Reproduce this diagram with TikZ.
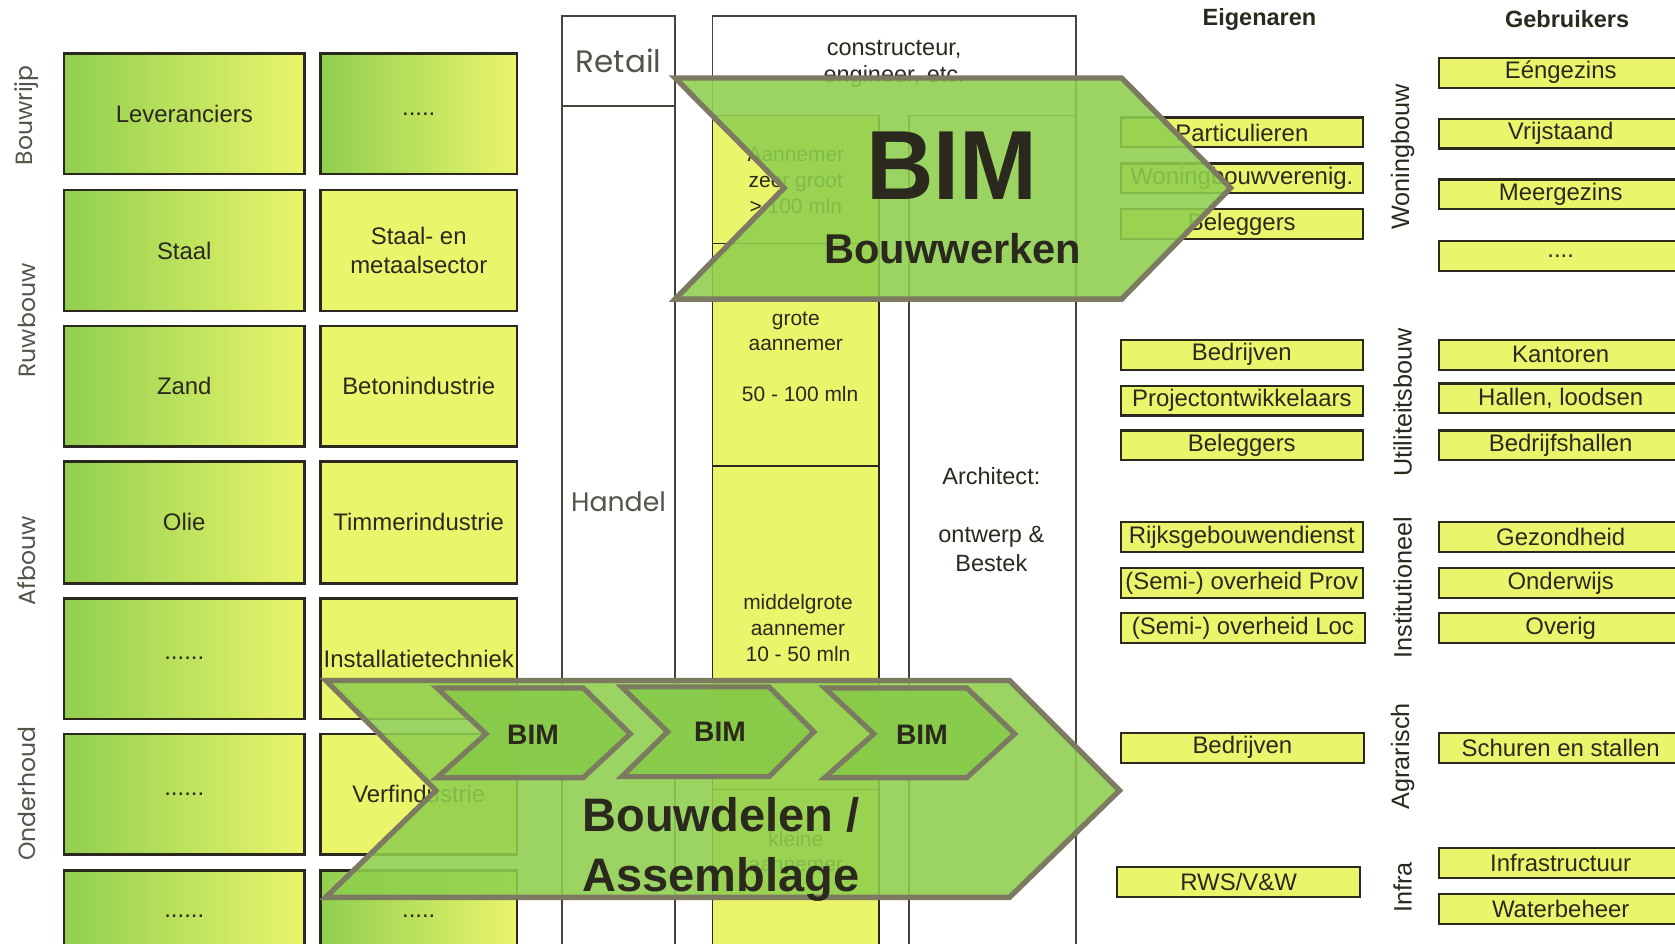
\documentclass[tikz,border=0pt]{standalone}
\usepackage{fontspec}
\setmainfont{Liberation Sans}
\newfontfamily\geo{Poppins}
\definecolor{ylw}{RGB}{234,245,107}
\definecolor{grn}{RGB}{144,207,80}
\definecolor{ink}{RGB}{43,41,30}
\definecolor{olive}{RGB}{125,122,98}
\definecolor{arrowfill}{RGB}{142,207,78}
\definecolor{chevfill}{RGB}{136,203,72}
\definecolor{colline}{RGB}{70,68,58}
\newcommand\mybox[7]{\node[#1, minimum width={(#5-#3)*0.5pt}, minimum height={(#6-#4)*0.5pt}] (#2) at ({(#3+#5)/2},{(#4+#6)/2}) {#7};}
\tikzset{
 base/.style={draw=ink, line width=1.2pt, inner sep=1pt, outer sep=0pt, text=ink, align=center, font=\fontsize{11.2}{13.5}\selectfont},
 gbox/.style={base, left color=grn, right color=ylw},
 ybox/.style={base, fill=ylw},
 rbox/.style={base, fill=ylw, line width=1pt},
 colbox/.style={draw=colline, line width=0.8pt, inner sep=0pt, outer sep=0pt},
 acol/.style={colbox, fill=ylw, draw=ink},
 retailbox/.style={colbox, text=ink!80, font=\geo\fontsize{14.5}{16}\selectfont},
 txt/.style={text=ink, inner sep=0pt, align=center, font=\fontsize{9.8}{12}\selectfont},
 mtxt/.style={text=ink, inner sep=0pt, align=center, font=\fontsize{11}{12.5}\selectfont},
 geotxt/.style={text=ink!80, inner sep=0pt, font=\geo\fontsize{12.5}{14}\selectfont},
 geocat/.style={text=ink!80, inner sep=0pt, font=\geo\fontsize{11}{13}\selectfont, rotate=90},
 cat/.style={text=ink, inner sep=0pt, font=\fontsize{11.8}{13}\selectfont, rotate=90},
 head/.style={text=ink, inner sep=0pt, font=\bfseries\fontsize{11}{13}\selectfont},
 bigarrow/.style={draw=olive, line width=2.5pt, fill=arrowfill, fill opacity=0.88, line join=miter},
 chev/.style={draw=olive, line width=2.4pt, fill=chevfill, fill opacity=0.92, line join=miter},
 bimtxt/.style={text=ink, inner sep=0pt, font=\bfseries\fontsize{13.2}{14}\selectfont},
 bigtxt/.style={text=ink, inner sep=0pt, align=left, font=\bfseries\fontsize{22}{28}\selectfont},
}
\begin{document}
\begin{tikzpicture}[x=0.5pt,y=-0.5pt]
\useasboundingbox[fill=white] (0,0) rectangle (1568,883);

% left category labels
\node[geocat] (cBouwrijp) at (25,108) {Bouwrijp};
\node[geocat] (cRuwbouw) at (25,300) {Ruwbouw};
\node[geocat] (cAfbouw) at (25,525) {Afbouw};
\node[geocat] (cOnderhoud) at (25,743) {Onderhoud};

% left boxes
\mybox{gbox}{l11}{60}{50}{285}{163}{Leveranciers}
\mybox{gbox}{l12}{300}{50}{484}{163}{.....}
\mybox{gbox}{l21}{60}{178}{285}{291}{Staal}
\mybox{ybox}{l22}{300}{178}{484}{291}{Staal- en\\metaalsector}
\mybox{gbox}{l31}{60}{305}{285}{418}{Zand}
\mybox{ybox}{l32}{300}{305}{484}{418}{Betonindustrie}
\mybox{gbox}{l41}{60}{432}{285}{546}{Olie}
\mybox{ybox}{l42}{300}{432}{484}{546}{Timmerindustrie}
\mybox{gbox}{l51}{60}{560}{285}{673}{......}
\mybox{ybox}{l52}{300}{560}{484}{673}{Installatietechniek}
\mybox{gbox}{l61}{60}{687}{285}{800}{......}
\mybox{ybox}{l62}{300}{687}{484}{800}{Verfindustrie}
\mybox{gbox}{l71}{60}{815}{285}{900}{......}
\mybox{gbox}{l72}{300}{815}{484}{900}{.....}

% middle columns
\mybox{retailbox}{retail}{526}{15}{632}{99}{Retail}
\mybox{colbox}{handel}{526}{99}{632}{900}{}
\node[geotxt] (handeltxt) at (579,470) {Handel};
\mybox{colbox}{bouw}{667}{15}{1007}{900}{}
\node[mtxt] (constr) at (837,60) {constructeur,\\engineer, etc.};
\mybox{acol}{a1}{667}{108}{823}{228}{}
\mybox{acol}{a2}{667}{228}{823}{436}{}
\mybox{acol}{a3}{667}{436}{823}{739}{}
\mybox{acol}{a4}{667}{739}{823}{900}{}
\mybox{colbox}{arch}{851}{108}{1007}{900}{}
\node[txt] (a1t) at (745,169) {Aannemer\\zeer groot\\> 100 mln};
\node[txt] (a2t) at (745,310) {grote\\aannemer};
\node[txt] (a2n) at (749,369) {50 - 100 mln};
\node[txt] (a3t) at (747,588) {middelgrote\\aannemer\\10 - 50 mln};
\node[txt] (a4t) at (745,797) {kleine\\aannemer};
\node[mtxt] (archt) at (928,446) {Architect:};
\node[mtxt] (archo) at (928,514) {ontwerp \&\\[1pt]Bestek};

% right side headers
\node[head] (eig) at (1179,18) {Eigenaren};
\node[head] (geb) at (1467,18) {Gebruikers};
\node[cat] (kWoning) at (1313,147) {Woningbouw};
\node[cat] (kUtil) at (1313,377) {Utiliteitsbouw};
\node[cat] (kInst) at (1313,550) {Institutioneel};
\node[cat] (kAgr) at (1313,708) {Agrarisch};
\node[cat] (kInfra) at (1313,831) {Infra};

% Eigenaren
\mybox{rbox}{e1}{1049}{110}{1276}{138}{Particulieren}
\mybox{rbox}{e2}{1049}{153}{1276}{181}{Woningbouwverenig.}
\mybox{rbox}{e3}{1049}{196}{1276}{224}{Beleggers}
\mybox{rbox}{e4}{1049}{318}{1276}{346}{Bedrijven}
\mybox{rbox}{e5}{1049}{361}{1276}{389}{Projectontwikkelaars}
\mybox{rbox}{e6}{1049}{403}{1276}{431}{Beleggers}
\mybox{rbox}{e7}{1049}{489}{1276}{517}{Rijksgebouwendienst}
\mybox{rbox}{e8}{1049}{532}{1276}{560}{(Semi-) overheid Prov}
\mybox{rbox}{e9}{1049}{574}{1278}{602}{(Semi-) overheid Loc}
\mybox{rbox}{e10}{1049}{686}{1277}{714}{Bedrijven}
\mybox{rbox}{e11}{1046}{812}{1273}{840}{RWS/V\&W}

% Gebruikers
\mybox{rbox}{g1}{1347}{54}{1575}{82}{Eéngezins}
\mybox{rbox}{g2}{1347}{111}{1575}{139}{Vrijstaand}
\mybox{rbox}{g3}{1347}{168}{1575}{196}{Meergezins}
\mybox{rbox}{g4}{1347}{226}{1575}{254}{....}
\mybox{rbox}{g5}{1347}{318}{1575}{346}{Kantoren}
\mybox{rbox}{g6}{1347}{359}{1575}{387}{Hallen, loodsen}
\mybox{rbox}{g7}{1347}{403}{1575}{431}{Bedrijfshallen}
\mybox{rbox}{g8}{1347}{489}{1575}{517}{Gezondheid}
\mybox{rbox}{g9}{1347}{532}{1575}{560}{Onderwijs}
\mybox{rbox}{g10}{1347}{574}{1575}{602}{Overig}
\mybox{rbox}{g11}{1347}{686}{1575}{714}{Schuren en stallen}
\mybox{rbox}{g12}{1347}{794}{1575}{822}{Infrastructuur}
\mybox{rbox}{g13}{1347}{837}{1575}{865}{Waterbeheer}

% top arrow: BIM Bouwwerken
\draw[bigarrow] (632,73) -- (1050,73) -- (1152,176) -- (1050,280) -- (632,280) -- (734,176) -- cycle;
\node[text=ink, inner sep=0pt, font=\bfseries\fontsize{46}{46}\selectfont] (bimbig) at (891,155) {\scalebox{0.95}[1]{BIM}};
\node[text=ink, inner sep=0pt, font=\bfseries\fontsize{19.5}{20}\selectfont] (bouwwerken) at (892,233) {Bouwwerken};

% bottom arrow: Bouwdelen / Assemblage
\draw[bigarrow] (305,637) -- (945,637) -- (1048,740) -- (945,840) -- (305,840) -- (408,740) -- cycle;
\draw[chev] (409,644) -- (546,644) -- (590,687) -- (546,728) -- (409,728) -- (455,687) -- cycle;
\draw[chev] (582,643) -- (720,643) -- (762,685) -- (720,727) -- (582,727) -- (625,685) -- cycle;
\draw[chev] (772,644) -- (905,644) -- (950,687) -- (905,728) -- (772,728) -- (818,687) -- cycle;
\node[bimtxt] (bim1) at (499,688) {BIM};
\node[bimtxt] (bim2) at (674,685) {BIM};
\node[bimtxt] (bim3) at (863,688) {BIM};
\node[bigtxt, anchor=west] (bouwdelen) at (545,795) {Bouwdelen /\\Assemblage};
\end{tikzpicture}
\end{document}
